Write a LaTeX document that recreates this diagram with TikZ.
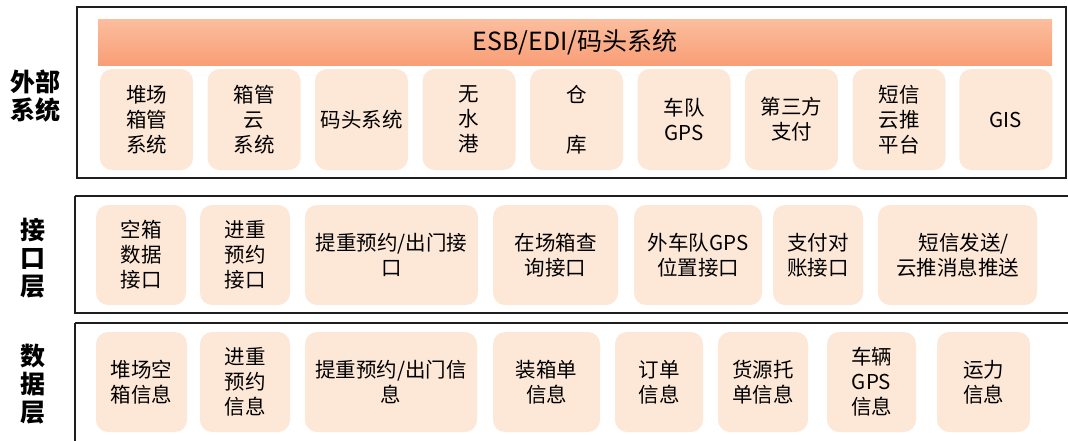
\documentclass[tikz,border=0pt]{standalone}
\usepackage{fontspec}
\setmainfont{Noto Sans CJK SC}
\definecolor{peach}{RGB}{253,232,216}
\definecolor{bartop}{RGB}{251,190,158}
\definecolor{barbot}{RGB}{249,158,118}
\definecolor{frameline}{RGB}{30,30,30}
\tikzset{
  frame/.style={draw=frameline, line width=1.6pt},
  box/.style={fill=peach, draw=none, rounded corners=12pt, inner sep=0pt, align=center,
    font=\fontsize{20.5}{25}\selectfont},
  toprow/.style={box, minimum width=93pt, minimum height=101pt},
  midrow/.style={box, minimum height=100pt},
  botrow/.style={box, minimum height=100pt},
  side/.style={align=center, font=\fontsize{25}{28}\selectfont\bfseries},
  bar/.style={top color=bartop, bottom color=barbot, draw=none, inner sep=0pt,
    minimum width=954pt, minimum height=46pt, font=\fontsize{25}{28}\selectfont}
}
\begin{document}
\begin{tikzpicture}[x=1pt,y=-1pt]
\useasboundingbox (0,0) rectangle (1068,440);
\fill[white] (0,0) rectangle (1068,440);
% frames
\draw[frame] (77,7) rectangle (1066,178);
\draw[frame] (75,196) -- (1072,196) (75,196) -- (75,313) -- (1072,313);
\draw[frame] (75,323) -- (1072,323) (75,323) -- (75,446);
% side labels
\node[side] (s1) at (35,96) {外部\\系统};
\node[side] (s2) at (33,258) {接\\口\\层};
\node[side] (s3) at (33,384) {数\\据\\层};
% bar
\node[bar] (esb) at (575,42) {ESB/EDI/码头系统};
% top row
\node[toprow] (t1) at (146.5,119.5) {堆场\\箱管\\系统};
\node[toprow] (t2) at (254,119.5) {箱管\\云\\系统};
\node[toprow] (t3) at (361.5,119.5) {码头系统};
\node[toprow] (t4) at (469,119.5) {无\\水\\港};
\node[toprow] (t5) at (576.5,119.5) {仓\\\mbox{}\\库};
\node[toprow] (t6) at (684,119.5) {车队\\GPS};
\node[toprow] (t7) at (791.5,119.5) {第三方\\支付};
\node[toprow] (t8) at (899,119.5) {短信\\云推\\平台};
\node[toprow] (t9) at (1005.75,119.5) {GIS};
% middle row
\node[midrow, minimum width=90pt] (m1) at (141,255) {空箱\\数据\\接口};
\node[midrow, minimum width=90pt] (m2) at (245,255) {进重\\预约\\接口};
\node[midrow, minimum width=173pt] (m3) at (391.5,255) {提重预约/出门接\\口};
\node[midrow, minimum width=125pt] (m4) at (555.5,255) {在场箱查\\询接口};
\node[midrow, minimum width=128pt] (m5) at (698,255) {外车队GPS\\位置接口};
\node[midrow, minimum width=90pt] (m6) at (818,255) {支付对\\账接口};
\node[midrow, minimum width=159pt] (m7) at (957.5,255) {\hspace*{0.6em}短信发送/\\云推消息推送};
% bottom row
\node[botrow, minimum width=91pt] (b1) at (141.5,382) {堆场空\\箱信息};
\node[botrow, minimum width=90pt] (b2) at (245,382) {进重\\预约\\信息};
\node[botrow, minimum width=172pt] (b3) at (391,382) {提重预约/出门信\\息};
\node[botrow, minimum width=107pt] (b4) at (546.5,382) {装箱单\\信息};
\node[botrow, minimum width=88pt] (b5) at (659,382) {订单\\信息};
\node[botrow, minimum width=90pt] (b6) at (763,382) {货源托\\单信息};
\node[botrow, minimum width=89pt] (b7) at (871.5,382) {车辆\\GPS\\信息};
\node[botrow, minimum width=93pt] (b8) at (983.5,382) {运力\\信息};
\end{tikzpicture}
\end{document}
